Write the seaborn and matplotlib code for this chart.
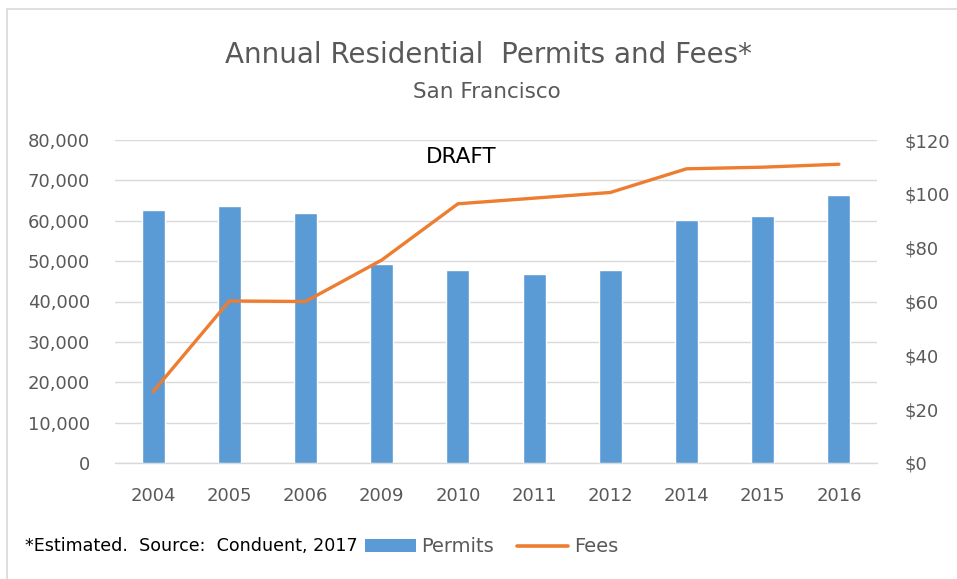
import matplotlib
matplotlib.use("Agg")
import matplotlib.pyplot as plt
from matplotlib.patches import Rectangle, Patch
from matplotlib.lines import Line2D
from matplotlib.ticker import FuncFormatter, MultipleLocator
import seaborn as sns
import pandas as pd

years = ["2004", "2005", "2006", "2009", "2010", "2011", "2012", "2014", "2015", "2016"]
permits = [62600, 63700, 61800, 49400, 47800, 46700, 47900, 60100, 61300, 66500]
fees = [26.5, 60.2, 60.0, 75.4, 96.3, 98.4, 100.5, 109.3, 109.9, 111.0]

df = pd.DataFrame({"Year": years, "Permits": permits, "Fees": fees})

BLUE = "#5b9bd5"
ORANGE = "#ed7d31"
GRAY = "#595959"
GRID = "#d9d9d9"

sns.set_theme(style="white")
plt.rcParams["font.family"] = ["DejaVu Sans"]

W, H = 957, 579
fig = plt.figure(figsize=(W / 100, H / 100), dpi=100)
ax = fig.add_axes([115 / W, 1 - 463 / H, (877 - 115) / W, (463 - 140) / H])

# permits as bars on the left axis
sns.barplot(data=df, x="Year", y="Permits", color=BLUE, width=0.3,
            saturation=1, ax=ax, zorder=3)
ax.set_xlim(-0.5, len(years) - 0.5)
ax.set_ylim(0, 80000)
ax.yaxis.set_major_locator(MultipleLocator(10000))
ax.yaxis.set_major_formatter(FuncFormatter(lambda v, p: f"{int(v):,}"))
ax.grid(axis="y", color=GRID, linewidth=1, zorder=0)
ax.set_axisbelow(True)
for name, s in ax.spines.items():
    s.set_visible(name == "bottom")
ax.spines["bottom"].set_color(GRID)
ax.spines["bottom"].set_linewidth(1)
ax.set_xlabel("")
ax.set_ylabel("")
ax.tick_params(axis="x", length=0, labelsize=13, labelcolor=GRAY, pad=17)
ax.tick_params(axis="y", length=0, labelsize=13, labelcolor=GRAY, pad=18)

# fees as a line on the right axis
ax2 = ax.twinx()
x_pos = list(range(len(years)))
sns.lineplot(x=x_pos, y=df["Fees"], color=ORANGE, linewidth=2.4, ax=ax2,
             sort=False, zorder=4)
ax2.set_ylim(0, 120)
ax2.yaxis.set_major_locator(MultipleLocator(20))
ax2.yaxis.set_major_formatter(FuncFormatter(lambda v, p: f"${int(v)}"))
for s in ax2.spines.values():
    s.set_visible(False)
ax2.set_ylabel("")
ax2.tick_params(axis="y", length=0, labelsize=13, labelcolor=GRAY, pad=20)
ax2.grid(False)

fig.text(461 / W, 1 - 157 / H, "DRAFT", ha="center", va="center",
         fontsize=15.5, color="black")

fig.text(488 / W, 1 - 55 / H, "Annual Residential  Permits and Fees*", ha="center",
         va="center", fontsize=20, color=GRAY)
fig.text(487 / W, 1 - 92 / H, "San Francisco", ha="center", va="center",
         fontsize=15.5, color=GRAY)

fig.text(25 / W, 1 - 546 / H, "*Estimated.  Source:  Conduent, 2017",
         ha="left", va="center", fontsize=12.6, color="black")
handles = [Patch(facecolor=BLUE, edgecolor="none", label="Permits"),
           Line2D([0], [0], color=ORANGE, linewidth=2.6, label="Fees")]
fig.legend(handles=handles, loc="center left", ncol=2, frameon=False,
           bbox_to_anchor=(365 / W, 1 - 547 / H), fontsize=14,
           handlelength=2.6, handleheight=0.6, handletextpad=0.3,
           columnspacing=1.2, borderpad=0, borderaxespad=0,
           labelcolor=GRAY)

# light outline along the top and left edges of the chart area
fig.patches.append(Rectangle((7 / W, -0.05), 1.0, 1 - 9 / H + 0.05,
                             transform=fig.transFigure, fill=False,
                             edgecolor=GRID, linewidth=1.2))

fig.savefig("out.png", dpi=100, facecolor="white")
